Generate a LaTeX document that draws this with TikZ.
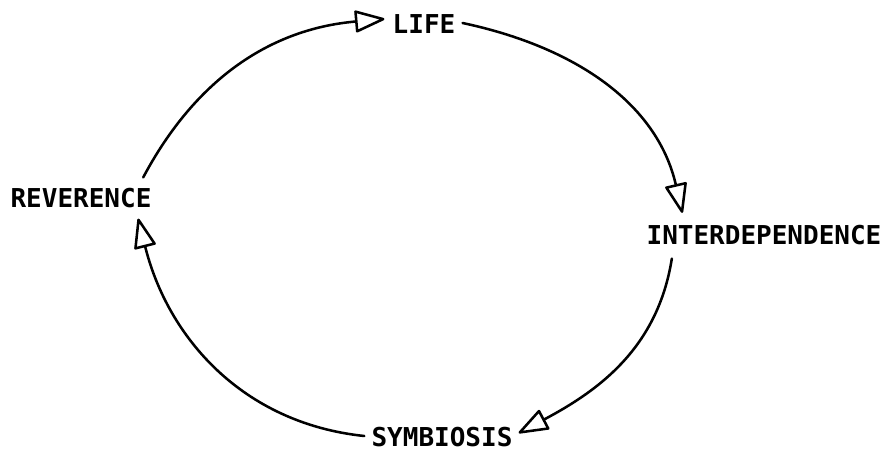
\documentclass[tikz,border=0pt]{standalone}
\usepackage{fontspec}
\setmonofont{DejaVu Sans Mono}
\usetikzlibrary{arrows.meta}
\begin{document}
\begin{tikzpicture}[x=0.75pt,y=0.75pt,
  lbl/.style={inner sep=0pt,font=\ttfamily\bfseries\fontsize{19.5}{20}\selectfont},
  conn/.style={line width=1.9pt,line cap=round,line join=round,
    -{Triangle[open,length=24pt,width=17pt,line join=round]}}]
\useasboundingbox (0,0) rectangle (886,455);
\node[lbl] (life) at (424,431) {LIFE};
\node[lbl] (inter) at (764,220) {INTERDEPENDENCE};
\node[lbl] (rev) at (81,257) {REVERENCE};
\node[lbl] (sym) at (442,18) {SYMBIOSIS};
\draw[conn] ([shift={(-8.5,10.5)}]rev.north east) to[out=62,in=185] ([shift={(-8,5)}]life.west);
\draw[conn] ([shift={(7,1)}]life.east) to[out=-12,in=103] ([shift={(36,12)}]inter.north west);
\draw[conn] ([shift={(25.5,-13.5)}]inter.south west) to[out=-99,in=28] ([shift={(6,4)}]sym.east);
\draw[conn] ([shift={(-7,1)}]sym.west) to[out=174,in=-76] ([shift={(-13.5,-10.5)}]rev.south east);
\end{tikzpicture}
\end{document}
